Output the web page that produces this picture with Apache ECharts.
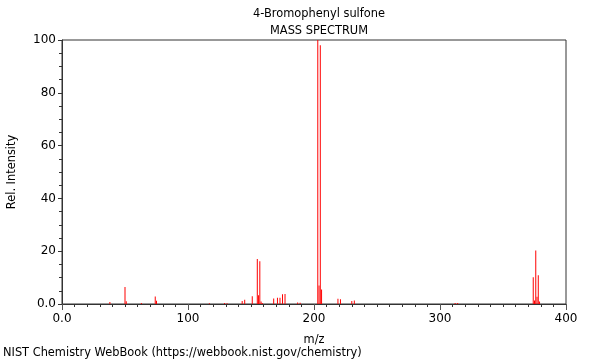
<!DOCTYPE html>
<html>
<head>
<meta charset="utf-8">
<script src="https://cdn.jsdelivr.net/npm/echarts@6/dist/echarts.min.js"></script>
<style>
  html, body { margin: 0; padding: 0; background: #fff; }
  #chart { width: 600px; height: 360px; }
</style>
</head>
<body>
<div id="chart"></div>
<script>
// peaks (m/z, relative intensity)
var mz = [38, 50, 51, 63, 74, 75, 117, 129, 131, 143, 145, 151, 155, 156, 157, 158, 159,
          168, 171, 173, 175, 177, 187, 189, 203, 204, 205, 206, 219, 221, 230, 232,
          312, 314, 374, 375, 376, 377, 378, 379];
var intensity = [0.8, 6.4, 1.0, 0.4, 2.8, 1.2, 0.3, 0.4, 0.3, 1.1, 1.6, 2.9, 17.0, 3.3, 16.2, 0.9, 0.4,
                 2.1, 2.4, 2.4, 3.7, 3.8, 0.6, 0.5, 100, 7.0, 98, 5.5, 2.0, 1.8, 1.1, 1.3,
                 0.4, 0.4, 10.1, 1.3, 20.3, 2.7, 10.9, 0.9];
var titleText = '4-Bromophenyl sulfone';
var subTitleText = 'MASS SPECTRUM';
var footerText = 'NIST Chemistry WebBook (https://webbook.nist.gov/chemistry)';

var font = 'DejaVu Sans';
var ink = '#000';
var smallSize = 11.4;

var chart = echarts.init(document.getElementById('chart'), null, { renderer: 'canvas' });
chart.setOption({
  animation: false,
  textStyle: { fontFamily: font },
  title: [
    { text: titleText, left: 314, top: 4, textAlign: 'center',
      textStyle: { fontFamily: font, fontSize: smallSize, fontWeight: 'normal', color: ink } },
    { text: subTitleText, left: 314, top: 21, textAlign: 'center',
      textStyle: { fontFamily: font, fontSize: smallSize, fontWeight: 'normal', color: ink } }
  ],
  graphic: [{
    type: 'text', left: 3, top: 348,
    style: { text: footerText, font: smallSize + 'px "DejaVu Sans"', fill: ink }
  }],
  grid: {
    left: 62, right: 34, top: 40, bottom: 56,
    containLabel: false, outerBoundsMode: 'none',
    show: true, borderColor: '#333', borderWidth: 1, backgroundColor: 'transparent'
  },
  xAxis: {
    type: 'value', min: 0, max: 400, interval: 100,
    name: 'm/z', nameLocation: 'middle', nameGap: 31,
    nameTextStyle: { fontFamily: font, fontSize: smallSize, color: ink },
    axisLine: { show: true, onZero: false, lineStyle: { color: '#333' } },
    axisTick: { show: true, length: 6, lineStyle: { color: '#555' } },
    minorTick: { show: true, splitNumber: 10, length: 3, lineStyle: { color: '#333' } },
    axisLabel: { color: ink, fontSize: 12, margin: 9,
      formatter: function (v) { return v === 0 ? '0.0' : String(v); } },
    splitLine: { show: false }
  },
  yAxis: {
    type: 'value', min: 0, max: 100, interval: 20,
    name: 'Rel. Intensity', nameLocation: 'middle', nameGap: 44,
    nameTextStyle: { fontFamily: font, fontSize: smallSize, color: ink },
    axisLine: { show: true, lineStyle: { color: '#333' } },
    axisTick: { show: true, length: 4, lineStyle: { color: '#333' } },
    minorTick: { show: true, splitNumber: 4, length: 3, lineStyle: { color: '#333' } },
    axisLabel: { color: ink, fontSize: 12, margin: 6,
      formatter: function (v) { return v === 0 ? '0.0' : String(v); } },
    splitLine: { show: false }
  },
  series: [{
    type: 'bar',
    data: mz.map(function (m, i) { return [m, intensity[i]]; }),
    barWidth: 1,
    itemStyle: { color: '#ff0000' },
    silent: true
  }]
});
</script>
</body>
</html>
